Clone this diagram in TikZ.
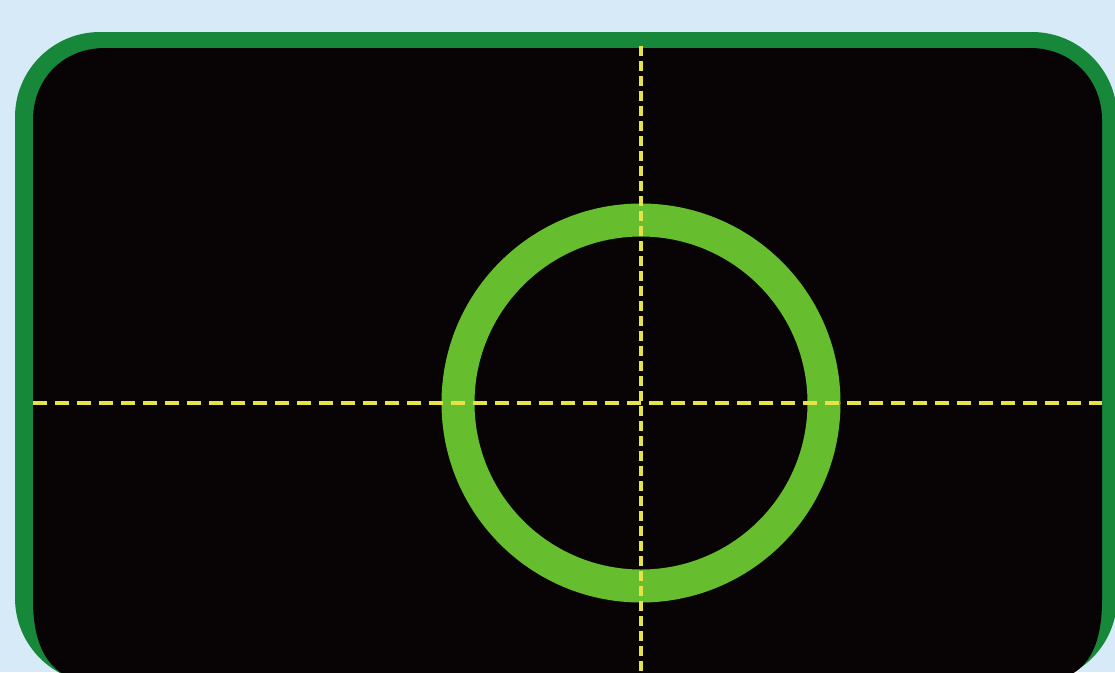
\documentclass[tikz,border=0pt]{standalone}
\definecolor{bgblue}{HTML}{D6EBF7}
\definecolor{framegreen}{HTML}{17883A}
\definecolor{screen}{HTML}{080305}
\definecolor{ringgreen}{HTML}{66BD2E}
\definecolor{crossyellow}{HTML}{E6E24A}
\tikzset{
  crossline/.style={crossyellow, line width=3.5pt},
  hdash/.style={crossline, dash pattern=on 14pt off 8pt},
  vdash/.style={crossline, dash pattern=on 10pt off 5pt},
  ring/.style={ringgreen, line width=33pt},
}
\begin{document}
\begin{tikzpicture}[x=1pt,y=-1pt]
  \useasboundingbox (0,0) rectangle (1115,672);
  \fill[bgblue] (0,0) rectangle (1115,672);
  \clip (0,0) rectangle (1115,672);
  % frame
  \fill[framegreen, rounded corners=85pt] (15,32) rectangle (1117,683);
  \fill[screen] (33,600) -- (33,120) .. controls (33,80) and (62,48) .. (105,48)
     -- (1030,48) .. controls (1072,48) and (1102,80) .. (1102,120)
     -- (1102,600) .. controls (1102,655) and (1082,683) .. (1032,683)
     -- (100,683) .. controls (55,683) and (33,655) .. (33,600) -- cycle;
  % crosshair
  \coordinate (c) at (641,403);
  \coordinate (hl) at (33,403);
  \coordinate (hr) at (1102,403);
  \coordinate (vt) at (641,46);
  \coordinate (vb) at (641,672);
  % ring
  \draw[ring] (c) circle (183);
  \draw[hdash] (hl) -- (hr);
  \draw[vdash] (vt) -- (vb);
\end{tikzpicture}
\end{document}
